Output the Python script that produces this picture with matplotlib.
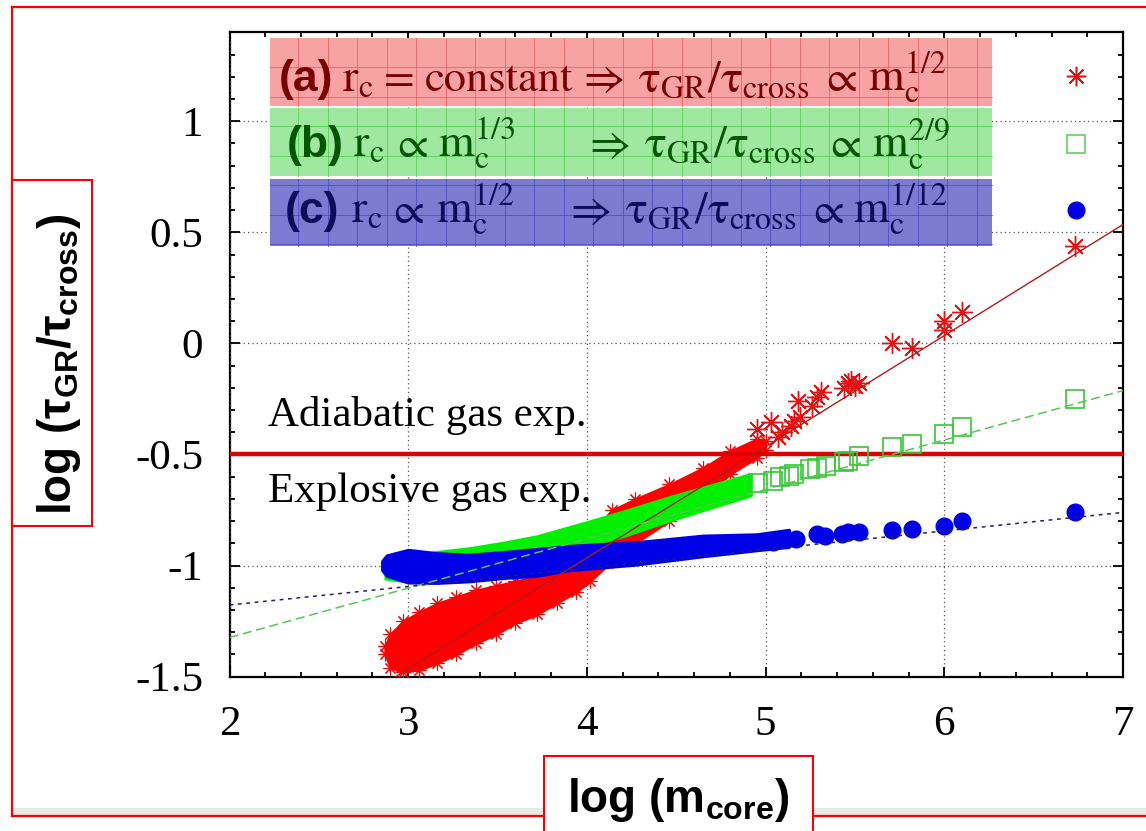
import numpy as np
import matplotlib
matplotlib.use("Agg")
import matplotlib.pyplot as plt
from matplotlib.patches import Rectangle
from matplotlib.lines import Line2D
from matplotlib.ticker import MultipleLocator, FixedLocator, FixedFormatter

# ---------------------------------------------------------------- data
# dense part of each sample: x, lower edge, upper edge of the point cloud
red_band_x = [2.87, 2.90, 2.97, 3.06, 3.16, 3.27, 3.38, 3.49, 3.60, 3.72,
              3.83, 3.94, 4.02, 4.14, 4.27, 4.46, 4.65, 4.80, 4.95, 5.00]
red_band_lo = [-1.40, -1.46, -1.48, -1.47, -1.44, -1.40, -1.35, -1.31, -1.26, -1.22,
               -1.17, -1.12, -1.07, -0.98, -0.90, -0.80, -0.69, -0.59, -0.515, -0.48]
red_band_hi = [-1.36, -1.31, -1.25, -1.21, -1.17, -1.14, -1.11, -1.09, -1.07, -1.045,
               -1.02, -0.95, -0.86, -0.75, -0.70, -0.635, -0.56, -0.485, -0.43, -0.44]

green_band_x = [2.87, 3.00, 3.12, 3.34, 3.53, 3.72, 3.90, 4.01, 4.20, 4.46, 4.70, 4.92]
green_band_lo = [-1.06, -1.075, -1.07, -1.04, -1.01, -0.98, -0.94, -0.91, -0.87, -0.80, -0.74, -0.685]
green_band_hi = [-1.00, -0.96, -0.94, -0.92, -0.895, -0.866, -0.825, -0.80, -0.755, -0.69, -0.635, -0.585]

blue_band_x = [2.855, 2.88, 3.00, 3.16, 3.34, 3.53, 3.72, 3.90, 4.27, 4.65, 4.95, 5.13]
blue_band_lo = [-1.02, -1.045, -1.075, -1.077, -1.07, -1.055, -1.045, -1.02, -0.995, -0.957, -0.93, -0.915]
blue_band_hi = [-0.98, -0.955, -0.93, -0.945, -0.952, -0.94, -0.926, -0.912, -0.896, -0.866, -0.86, -0.84]

# isolated models at large core mass
red_x = [4.95, 5.03, 5.07, 5.09, 5.14, 5.16, 5.19, 5.18, 5.26, 5.29, 5.31,
         5.44, 5.46, 5.48, 5.50, 5.52, 5.71, 5.82, 6.00, 6.00, 6.10, 6.73]
red_y = [-0.385, -0.356, -0.42, -0.40, -0.37, -0.35, -0.333, -0.26, -0.28, -0.243, -0.22,
         -0.20, -0.18, -0.17, -0.19, -0.18, 0.00, -0.02, 0.06, 0.10, 0.14, 0.44]

green_x = [4.96, 5.04, 5.08, 5.13, 5.16, 5.25, 5.29, 5.34, 5.44, 5.46, 5.52,
           5.71, 5.82, 6.00, 6.10, 6.73]
green_y = [-0.63, -0.618, -0.603, -0.596, -0.588, -0.565, -0.559, -0.55, -0.535, -0.529, -0.506,
           -0.468, -0.453, -0.408, -0.378, -0.25]

blue_x = [5.04, 5.17, 5.29, 5.33, 5.43, 5.46, 5.52, 5.71, 5.82, 6.00, 6.10, 6.73]
blue_y = [-0.896, -0.88, -0.86, -0.866, -0.86, -0.85, -0.85, -0.84, -0.836, -0.82, -0.80, -0.761]

# fitted power laws: log(tGR/tcross) = slope * log(m) + offset
fit_slopes = [1 / 2, 2 / 9, 1 / 12]
fit_offsets = [-2.965, -1.768, -1.344]

threshold = -0.5
x_ticks = [2, 3, 4, 5, 6, 7]
x_tick_labels = ["2", "3", "4", "5", "6", "7"]
y_ticks = [-1.5, -1, -0.5, 0, 0.5, 1]
y_tick_labels = ["-1.5", "-1", "-0.5", "0", "0.5", "1"]

# ---------------------------------------------------------------- style
plt.rcParams["mathtext.fontset"] = "custom"
plt.rcParams["mathtext.rm"] = "Liberation Sans:bold"
plt.rcParams["mathtext.it"] = "Liberation Sans:bold"
plt.rcParams["mathtext.bf"] = "Liberation Sans:bold"
plt.rcParams["mathtext.sf"] = "Liberation Sans:bold"

W, H = 1146, 831
fig = plt.figure(figsize=(W / 100, H / 100), dpi=100)


def fx(px):
    return px / W


def fy(py):
    return 1 - py / H


ax = fig.add_axes([fx(229.5), fy(676.7), fx(1123) - fx(229.5), fy(32.3) - fy(676.7)])
ax.set_xlim(2, 7)
ax.set_ylim(-1.5, 1.4)

serif = "Liberation Serif"
ax.xaxis.set_major_locator(FixedLocator(x_ticks))
ax.xaxis.set_major_formatter(FixedFormatter(x_tick_labels))
ax.yaxis.set_major_locator(FixedLocator(y_ticks))
ax.yaxis.set_major_formatter(FixedFormatter(y_tick_labels))
ax.xaxis.set_minor_locator(MultipleLocator(0.2))
ax.yaxis.set_minor_locator(MultipleLocator(0.1))
ax.tick_params(which="both", direction="in", top=True, right=True, width=1.3, colors="black")
ax.tick_params(which="major", length=7.5)
ax.tick_params(which="minor", length=3.8)
ax.tick_params(axis="x", which="major", pad=21, labelsize=31)
ax.tick_params(axis="y", which="major", pad=19, labelsize=31)
for lab in ax.get_xticklabels() + ax.get_yticklabels():
    lab.set_fontfamily(serif)
for sp in ax.spines.values():
    sp.set_linewidth(1.6)

ax.grid(True, which="major", color="#555555", lw=0.9, ls=(0, (1, 2.5)))
ax.set_axisbelow(True)
ax.xaxis.set_zorder(2.5)   # vertical grid lines run over the key bands

# ---------------------------------------------------------------- key bands
# each entry: band top/bottom (px), fill, texture, text colour, baseline, tag x, pieces
# pieces starting with "$" are mathtext, the others are plain STIX glyphs
bands = [
    (38.0, 105.7, "#f7a3a3", "#ee5555", "#780000", 91.3, 278.3, "(a)",
     [(r"$\mathrm{r_c}$", 342.5), ("=", 384.0), ("constant", 425.0),
      ("\u21d2", 583.0), (r"$\mathrm{\tau_{GR}/\tau_{cross}}$", 638.0),
      ("\u221d", 826.0), (r"$\mathrm{m_c^{1/2}}$", 868.0)]),
    (108.0, 175.7, "#9fe89f", "#44cc44", "#005500", 157.0, 287.0, "(b)",
     [(r"$\mathrm{r_c}$", 353.0), ("\u221d", 397.0), (r"$\mathrm{m_c^{1/3}}$", 438.0),
      ("\u21d2", 589.0), (r"$\mathrm{\tau_{GR}/\tau_{cross}}$", 644.0),
      ("\u221d", 830.0), (r"$\mathrm{m_c^{2/9}}$", 872.0)]),
    (179.0, 246.0, "#7b7bd2", "#4444c4", "#0c0c5a", 223.0, 285.0, "(c)",
     [(r"$\mathrm{r_c}$", 351.0), ("\u221d", 393.0), (r"$\mathrm{m_c^{1/2}}$", 436.0),
      ("\u21d2", 570.0), (r"$\mathrm{\tau_{GR}/\tau_{cross}}$", 625.0),
      ("\u221d", 813.0), (r"$\mathrm{m_c^{1/12}}$", 853.0)]),
]
bx0, bx1 = 270.0, 991.6
for (top, bot, fc, lc, tc, base, tagx, tag, pieces) in bands:
    fig.add_artist(Rectangle((fx(bx0), fy(bot)), fx(bx1) - fx(bx0), fy(top) - fy(bot),
                             transform=fig.transFigure, facecolor=fc, edgecolor="none", zorder=2))
    for gx in np.arange(bx0 + 28.3, bx1, 29.5):
        fig.add_artist(Line2D([fx(gx), fx(gx)], [fy(bot), fy(top)], transform=fig.transFigure,
                              color=lc, lw=0.7, alpha=0.7, zorder=2.1))
    for gy in np.arange(67.3 - 29.5 * 3, bot, 29.5):
        if top < gy < bot:
            fig.add_artist(Line2D([fx(bx0), fx(bx1)], [fy(gy), fy(gy)], transform=fig.transFigure,
                                  color=lc, lw=0.7, alpha=0.7, zorder=2.1))
    fig.text(fx(tagx), fy(base), tag, fontsize=32, fontweight="bold", family="Liberation Sans",
             color=tc, ha="left", va="baseline", zorder=6)
    for txt, px in pieces:
        if txt.startswith("$"):
            fig.text(fx(px), fy(base), txt, fontsize=33, math_fontfamily="stix",
                     color=tc, ha="left", va="baseline", zorder=6)
        else:
            fig.text(fx(px), fy(base), txt, fontsize=32, family="STIXGeneral",
                     color=tc, ha="left", va="baseline", zorder=6)

# key symbols
asterisk = (8, 2, 0)
ax.plot([0.947], [0.932], transform=ax.transAxes, clip_on=False, ls="none",
        marker=asterisk, ms=14, mew=1.1, color="#e01010", zorder=6)
ax.plot([0.947], [0.827], transform=ax.transAxes, clip_on=False, ls="none",
        marker="s", ms=12.5, mfc="none", mec="#66cc66", mew=1.2, zorder=6)
ax.plot([0.947], [0.724], transform=ax.transAxes, clip_on=False, ls="none",
        marker="o", ms=12, color="#0000e6", zorder=6)

# ---------------------------------------------------------------- data
ax.fill_between(red_band_x, red_band_lo, red_band_hi, color="#ff0000", lw=1.5, zorder=3)
ax.plot(red_band_x, red_band_lo, ls="none", marker=asterisk, ms=10, mew=0.8, color="#ff0000", zorder=3)
ax.plot(red_band_x, red_band_hi, ls="none", marker=asterisk, ms=10, mew=0.8, color="#ff0000", zorder=3)

ax.fill_between(green_band_x, green_band_lo, green_band_hi, color="#00f000", lw=1.5, zorder=3.1)
ax.fill_between(blue_band_x, blue_band_lo, blue_band_hi, color="#0000e6", lw=2.5, zorder=3.2)

ax.plot(red_x, red_y, ls="none", marker=asterisk, ms=15, mew=1.0, color="#e81010", zorder=3.3)
ax.plot(green_x, green_y, ls="none", marker="s", ms=13, mfc="none", mec="#33c833", mew=1.2, zorder=3.3)
ax.plot(blue_x, blue_y, ls="none", marker="o", ms=12, color="#0000e6", zorder=3.3)

ax.axhline(threshold, color="#dd0000", lw=3.2, zorder=3.25)

xf = np.array(ax.get_xlim())
fit_styles = [
    dict(color="#b01c1c", lw=1.0, ls="-"),
    dict(color="#55c855", lw=1.1, ls=(0, (6, 3))),
    dict(color="#202070", lw=1.1, ls=(0, (2.5, 3))),
]
for s, o, st in zip(fit_slopes, fit_offsets, fit_styles):
    ax.plot(xf, s * xf + o, zorder=4, **st)

ax.text(2.215, -0.371, "Adiabatic gas exp.", family=serif, fontsize=31, ha="left", va="baseline", zorder=6)
ax.text(2.215, -0.716, "Explosive gas exp.", family=serif, fontsize=31, ha="left", va="baseline", zorder=6)

# ---------------------------------------------------------------- frame and axis titles
fig.add_artist(Rectangle((fx(11.5), fy(816)), 1 - fx(11.5), fy(808) - fy(816),
                         transform=fig.transFigure, facecolor="#e8e8e4", edgecolor="none", zorder=0))
red = "#ff0000"
fig.add_artist(Line2D([fx(11.5), fx(11.5)], [fy(7), fy(816)], transform=fig.transFigure, color=red, lw=1.6))
fig.add_artist(Line2D([fx(11.5), 1], [fy(7), fy(7)], transform=fig.transFigure, color=red, lw=1.6))
fig.add_artist(Line2D([fx(11.5), 1], [fy(816), fy(816)], transform=fig.transFigure, color=red, lw=1.6))

fig.add_artist(Rectangle((fx(11.5), fy(525.7)), fx(92) - fx(11.5), fy(180) - fy(525.7),
                         transform=fig.transFigure, facecolor="white", edgecolor=red, lw=1.5, zorder=5))
fig.text(fx(59), fy(364), r"log ($\tau_{\mathrm{GR}}$/$\tau_{\mathrm{cross}}$)", rotation=90,
         fontsize=33, fontweight="bold", family="Liberation Sans", math_fontfamily="custom",
         ha="center", va="center", zorder=6)

fig.add_artist(Rectangle((fx(544), fy(840)), fx(812.7) - fx(544), fy(755.5) - fy(840),
                         transform=fig.transFigure, facecolor="white", edgecolor=red, lw=1.5, zorder=5))
fig.text(fx(678), fy(811.7), r"log (m$_{\mathrm{core}}$)", fontsize=33, fontweight="bold",
         family="Liberation Sans", math_fontfamily="custom", ha="center", va="baseline", zorder=6)

fig.savefig("out.png", dpi=100)
